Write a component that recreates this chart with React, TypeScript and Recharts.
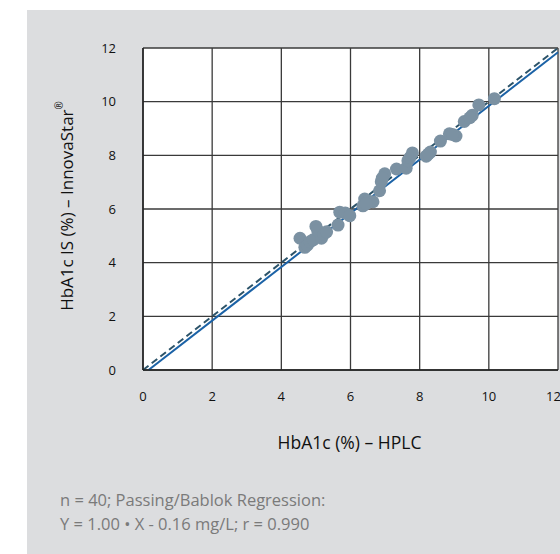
import React from "react";
import {
  ScatterChart,
  Scatter,
  XAxis,
  YAxis,
  CartesianGrid,
  ReferenceLine,
  Label,
} from "recharts";

const hplc = [
  4.54, 4.68, 4.75, 4.83, 4.92, 5.0, 5.05, 5.16, 5.22, 5.31,
  5.64, 5.69, 5.85, 5.98, 6.36, 6.41, 6.5, 6.65, 6.84, 6.89,
  6.99, 6.92, 7.33, 7.61, 7.66, 7.72, 7.79, 8.19, 8.31, 8.25,
  8.6, 8.86, 9.05, 8.95, 9.29, 9.52, 9.45, 9.71, 10.16, 6.45,
];
const innova = [
  4.91, 4.57, 4.65, 4.78, 4.85, 5.35, 5.2, 4.91, 5.05, 5.15,
  5.4, 5.88, 5.85, 5.75, 6.12, 6.37, 6.3, 6.27, 6.68, 7.02,
  7.31, 7.15, 7.49, 7.52, 7.8, 7.92, 8.09, 7.97, 8.12, 8.05,
  8.53, 8.8, 8.72, 8.78, 9.26, 9.49, 9.4, 9.88, 10.11, 6.2,
];
const ticks = [0, 2, 4, 6, 8, 10, 12];
const identityLine = [
  { x: 0, y: 0 },
  { x: 12, y: 12 },
];
const regressionLine = [
  { x: 0.16, y: 0 },
  { x: 12, y: 11.84 },
];
const xTitle = "HbA1c (%) – HPLC";
const yTitle = "HbA1c IS (%) – InnovaStar";
const yTitleMark = "®";
const note1 = "n = 40; Passing/Bablok Regression:";
const note2 = "Y = 1.00 • X - 0.16 mg/L; r = 0.990";

const points = hplc.map((x, i) => ({ x, y: innova[i] }));

const FONT = "'Open Sans', sans-serif";

const Dot = (props: any) => (
  <circle cx={props.cx} cy={props.cy} r={6.5} fill="#7b91a2" />
);

export default function App() {
  return (
    <div
      style={{
        position: "absolute",
        left: 0,
        top: 0,
        width: 560,
        height: 554,
        background: "#ffffff",
        overflow: "hidden",
        fontFamily: FONT,
      }}
    >
      <div
        style={{
          position: "absolute",
          left: 27,
          top: 10,
          width: 533,
          height: 544,
          background: "#dcdddf",
        }}
      />
      <div style={{ position: "absolute", left: 0, top: 0 }}>
        <ScatterChart
          width={560}
          height={554}
          margin={{ top: 48, right: 2, left: 43, bottom: 84 }}
        >
          <CartesianGrid
            stroke="#3a3a3a"
            strokeWidth={1.3}
            fill="#ffffff"
            fillOpacity={1}
          />
          <XAxis
            type="number"
            dataKey="x"
            domain={[0, 12]}
            ticks={ticks}
            height={100}
            tickSize={0}
            tickMargin={22}
            axisLine={{ stroke: "#222", strokeWidth: 1.5 }}
            tickLine={false}
            tick={{ fill: "#111", fontSize: 13, fontFamily: FONT }}
            allowDataOverflow
          >
            <Label
              content={(p: any) => {
                const vb = p.viewBox || {};
                return (
                  <text
                    x={vb.x + vb.width / 2 - 1}
                    y={vb.y + 79}
                    textAnchor="middle"
                    fontSize={17.5}
                    fill="#111"
                    fontFamily={FONT}
                  >
                    {xTitle}
                  </text>
                );
              }}
            />
          </XAxis>
          <YAxis
            type="number"
            dataKey="y"
            domain={[0, 12]}
            ticks={ticks}
            width={100}
            tickSize={0}
            tickMargin={27}
            axisLine={{ stroke: "#222", strokeWidth: 1.5 }}
            tickLine={false}
            tick={{ fill: "#111", fontSize: 13, fontFamily: FONT }}
            allowDataOverflow
          >
            <Label
              content={(p: any) => {
                const vb = p.viewBox || {};
                const cx = vb.x + 23;
                const cy = vb.y + vb.height / 2 - 3;
                return (
                  <text
                    x={cx}
                    y={cy}
                    transform={`rotate(-90 ${cx} ${cy})`}
                    textAnchor="middle"
                    dominantBaseline="central"
                    fontSize={17}
                    fill="#111"
                    fontFamily={FONT}
                  >
                    {yTitle}
                    <tspan fontSize={10} dy={-7}>
                      {yTitleMark}
                    </tspan>
                  </text>
                );
              }}
            />
          </YAxis>
          <ReferenceLine
            segment={identityLine}
            stroke="#2c5369"
            strokeWidth={2}
            strokeDasharray="7 4"
          />
          <ReferenceLine
            segment={regressionLine}
            stroke="#1b62a6"
            strokeWidth={2}
          />
          <Scatter
            data={points}
            shape={Dot}
            isAnimationActive={false}
          />
        </ScatterChart>
      </div>
      <div
        style={{
          position: "absolute",
          left: 60,
          top: 488,
          fontSize: 16.5,
          lineHeight: "24px",
          color: "#7a7a7a",
          fontFamily: FONT,
          whiteSpace: "nowrap",
        }}
      >
        <div>{note1}</div>
        <div>{note2}</div>
      </div>
    </div>
  );
}
